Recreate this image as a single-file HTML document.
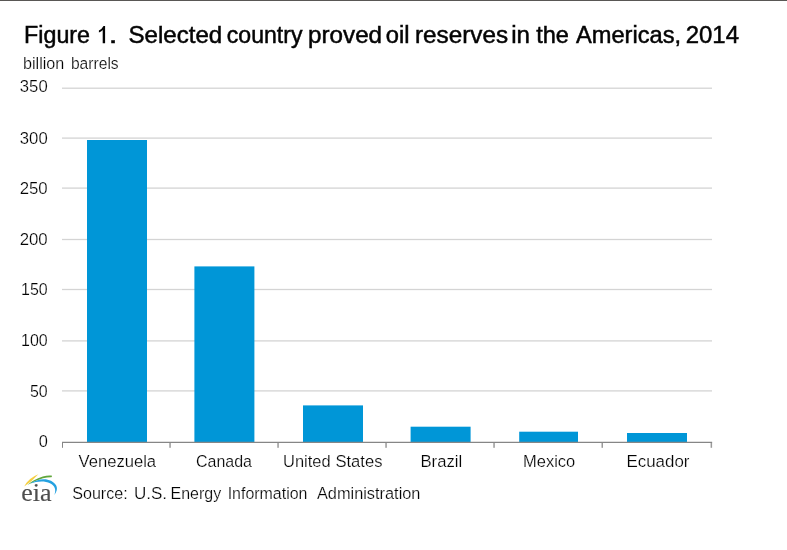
<!DOCTYPE html>
<html>
<head>
<meta charset="utf-8">
<title>Figure 1</title>
<style>
html,body{margin:0;padding:0;background:#fff;}
body{width:787px;height:550px;overflow:hidden;position:relative;font-family:"Liberation Sans",sans-serif;}
svg{position:absolute;left:0;top:0;display:block;}
text{font-family:"Liberation Sans",sans-serif;}
.serif{font-family:"Liberation Serif",serif;}
</style>
</head>
<body>
<svg width="787" height="550" viewBox="0 0 787 550">
  <rect x="0" y="0" width="787" height="550" fill="#ffffff"/>
  <!-- top border -->
  <rect x="0" y="0" width="787" height="1" fill="#595755"/>

  <!-- gridlines -->
  <g fill="#d4d4d4">
    <rect x="62" y="87.55" width="650" height="1.3"/>
    <rect x="62" y="137.45" width="650" height="1.3"/>
    <rect x="62" y="187.45" width="650" height="1.3"/>
    <rect x="62" y="238.85" width="650" height="1.3"/>
    <rect x="62" y="288.85" width="650" height="1.3"/>
    <rect x="62" y="340.25" width="650" height="1.3"/>
    <rect x="62" y="390.25" width="650" height="1.3"/>
  </g>

  <!-- bars -->
  <g fill="#0096d7">
    <rect x="87" y="140" width="60" height="302"/>
    <rect x="194.4" y="266.4" width="60" height="175.6"/>
    <rect x="303" y="405.4" width="60" height="36.6"/>
    <rect x="410.6" y="426.7" width="60" height="15.3"/>
    <rect x="519.2" y="431.7" width="58.8" height="10.3"/>
    <rect x="627" y="433" width="60" height="9"/>
  </g>

  <!-- axis -->
  <g fill="#9a9a9a">
    <rect x="169.3" y="442" width="1.5" height="5.8"/>
    <rect x="277.3" y="442" width="1.5" height="5.8"/>
    <rect x="385.3" y="442" width="1.5" height="5.8"/>
    <rect x="493.3" y="442" width="1.5" height="5.8"/>
    <rect x="601.5" y="442" width="1.5" height="5.8"/>
    <rect x="710.6" y="442" width="1.5" height="5.8"/>
  </g>
  <rect x="62" y="442" width="1" height="5.8" fill="#868686"/>
  <rect x="62" y="441.75" width="650.1" height="1.25" fill="#868686"/>

<g opacity="0.99">
<g class="title" stroke="#000" stroke-width="0.5">
  <text transform="translate(24.06 43.00) scale(0.9708 1)" font-size="24" fill="#000">Figure</text>
  <text transform="translate(108.83 43.00) scale(1.3043 1)" font-size="24" fill="#000">.</text>
  <text transform="translate(128.40 43.00) scale(1.0044 1)" font-size="24" fill="#000">Selected</text>
  <text transform="translate(226.84 43.00) scale(0.9613 1)" font-size="24" fill="#000">country</text>
  <text transform="translate(308.09 43.00) scale(1.0085 1)" font-size="24" fill="#000">proved</text>
  <text transform="translate(385.71 43.00) scale(0.9907 1)" font-size="24" fill="#000">oil</text>
  <text transform="translate(414.98 43.00) scale(1.0123 1)" font-size="24" fill="#000">reserves</text>
  <text transform="translate(511.19 43.00) scale(1.0065 1)" font-size="24" fill="#000">in</text>
  <text transform="translate(536.21 43.00) scale(0.9812 1)" font-size="24" fill="#000">the</text>
  <text transform="translate(575.90 43.00) scale(0.9866 1)" font-size="24" fill="#000">Americas,</text>
  <text transform="translate(685.70 43.00) scale(0.9981 1)" font-size="24" fill="#000">2014</text>
  <path d="M102.7 43.3 L102.7 30.0 Q101.2 31.6 98.9 32.6 L98.9 30.5 Q102.2 28.9 103.5 26.1 L105.1 26.1 L105.1 43.3 Z" fill="#000" stroke="none"/>
</g>
<g class="sm" stroke="#fff" stroke-width="0.22">
  <text transform="translate(22.98 68.90) scale(0.9291 1)" font-size="17.4" fill="#000">billion</text>
  <text transform="translate(70.91 68.90) scale(0.8990 1)" font-size="17.4" fill="#000">barrels</text>
  <text transform="translate(19.83 92.10) scale(0.9603 1)" font-size="17.4" fill="#000">350</text>
  <text transform="translate(19.83 143.80) scale(0.9603 1)" font-size="17.4" fill="#000">300</text>
  <text transform="translate(19.63 193.70) scale(0.9673 1)" font-size="17.4" fill="#000">250</text>
  <text transform="translate(19.63 244.60) scale(0.9673 1)" font-size="17.4" fill="#000">200</text>
  <text transform="translate(21.01 295.20) scale(0.9188 1)" font-size="17.4" fill="#000">150</text>
  <text transform="translate(21.01 346.00) scale(0.9188 1)" font-size="17.4" fill="#000">100</text>
  <text transform="translate(29.96 397.00) scale(0.9167 1)" font-size="17.4" fill="#000">50</text>
  <text transform="translate(38.64 446.80) scale(0.9398 1)" font-size="17.4" fill="#000">0</text>
  <text transform="translate(78.50 466.50) scale(0.9557 1)" font-size="17.4" fill="#000">Venezuela</text>
  <text transform="translate(195.97 466.50) scale(0.9201 1)" font-size="17.4" fill="#000">Canada</text>
  <text transform="translate(283.07 466.50) scale(0.9457 1)" font-size="17.4" fill="#000">United</text>
  <text transform="translate(335.44 466.50) scale(0.9541 1)" font-size="17.4" fill="#000">States</text>
  <text transform="translate(420.45 466.50) scale(0.9609 1)" font-size="17.4" fill="#000">Brazil</text>
  <text transform="translate(522.97 466.50) scale(0.9491 1)" font-size="17.4" fill="#000">Mexico</text>
  <text transform="translate(626.44 466.50) scale(0.9731 1)" font-size="17.4" fill="#000">Ecuador</text>
  <text transform="translate(72.16 499.40) scale(0.9271 1)" font-size="17.4" fill="#000">Source:</text>
  <text transform="translate(133.93 499.40) scale(0.9806 1)" font-size="17.4" fill="#000">U.S.</text>
  <text transform="translate(170.51 499.40) scale(0.9199 1)" font-size="17.4" fill="#000">Energy</text>
  <text transform="translate(227.63 499.40) scale(0.9182 1)" font-size="17.4" fill="#000">Information</text>
  <text transform="translate(316.90 499.40) scale(0.9396 1)" font-size="17.4" fill="#000">Administration</text>
</g>
  <!-- eia logo -->
  <g>
    <path d="M24.2 486.6 Q28.5 478 38.3 474.3 Q32.3 481.3 24.2 486.6 Z" fill="#f6cf3f"/>
    <path d="M27.3 484.9 Q33 479.6 42.8 476.4 Q47.5 475.2 51.6 475.6 Q52.6 476.3 51.4 477.3 Q47.5 477.2 43 478.2 Q35 480.6 27.3 484.9 Z" fill="#5fa53a"/>
    <path d="M30.3 483.6 C36 479.5 45 477.6 51 480.8 C57.5 484.3 58.8 489.5 54.4 494.9 C56.2 490 55.2 486 50 483.3 C44.5 480.6 37 481.3 30.3 483.6 Z" fill="#22a0e0"/>
    <text class="serif" x="21.2" y="500.6" font-size="26" fill="#4c4c4c" stroke="#4c4c4c" stroke-width="0.15">eia</text>
  </g>
</g>

</svg>
</body>
</html>
